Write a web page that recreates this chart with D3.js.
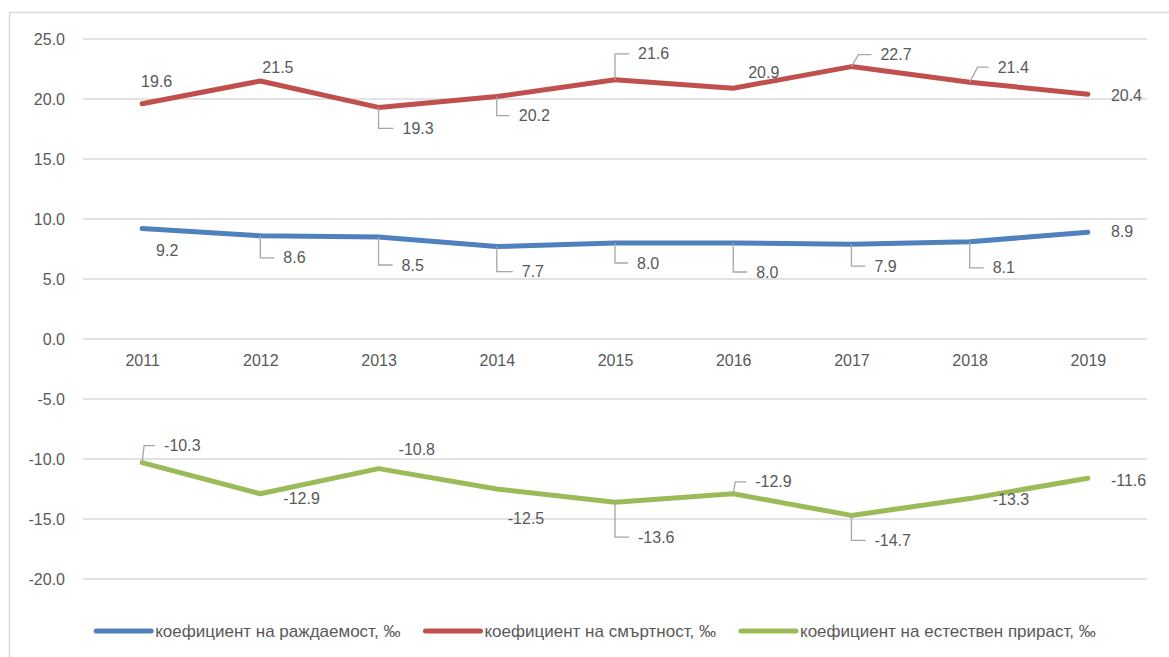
<!DOCTYPE html>
<html>
<head>
<meta charset="utf-8">
<script src="https://cdn.jsdelivr.net/npm/d3@7"></script>
<style>
  body { margin: 0; background: #fff; }
  svg { display: block; }
</style>
</head>
<body>
<script>
    // data
    var years = ["2011", "2012", "2013", "2014", "2015", "2016", "2017", "2018", "2019"]
    var birthRate = [9.2, 8.6, 8.5, 7.7, 8.0, 8.0, 7.9, 8.1, 8.9]
    var deathRate = [19.6, 21.5, 19.3, 20.2, 21.6, 20.9, 22.7, 21.4, 20.4]
    var naturalGrowth = [-10.3, -12.9, -10.8, -12.5, -13.6, -12.9, -14.7, -13.3, -11.6]
    var yTicks = [25, 20, 15, 10, 5, 0, -5, -10, -15, -20]
    var seriesNames = ["коефициент на раждаемост, ‰", "коефициент на смъртност, ‰", "коефициент на естествен прираст, ‰"]
    var seriesColors = ["#4F81BD", "#C0504D", "#9BBB59"]

    // label placement relative to point: [dx, dy, leader, slant]
    var birthLabelPos = [[14, 22, 0, 0], [23, 22, 1, 0], [23, 28, 1, 0], [25, 25, 1, 0], [22, 20, 1, 0], [23, 29, 1, 0], [23, 22, 1, 0], [23, 26, 1, 0], [23, -1, 0, 0]]
    var deathLabelPos = [[-1, -22, 0, 0], [2, -14, 0, 0], [24, 21, 1, 0], [22, 19, 1, 0], [23, -26, 1, 0], [15, -16, 0, 0], [29, -12, 1, 7], [28, -15, 1, 8], [23, 1, 0, 0]]
    var growthLabelPos = [[22, -17, 1, 2], [23, 5, 0, 0], [20, -19, 0, 0], [11, 29, 0, 0], [23, 35, 1, 0], [22, -12, 1, 2], [23, 25, 1, 0], [23, 1, 0, 0], [23, 2, 0, 0]]

    var width = 1169, height = 657
    var textColor = "#595959"
    var fontFam = "'Liberation Sans', Arial, sans-serif"

    // one decimal, plain hyphen for negatives
    var fmt = function (v) { return d3.format(".1f")(v).replace("\u2212", "-") }

    var svg = d3.select("body").append("svg")
        .attr("width", width)
        .attr("height", height)

    // chart border
    svg.append("rect")
        .attr("x", 9.5).attr("y", 12.5)
        .attr("width", 1200).attr("height", 700)
        .attr("fill", "white")
        .attr("stroke", "#D9D9D9")
        .attr("stroke-width", 1.5)

    var x = d3.scalePoint().domain(years).range([83, 1147]).padding(0.5)
    var y = d3.scaleLinear().domain([-20, 25]).range([579, 39])

    // gridlines
    svg.append("g").selectAll("line")
        .data(yTicks)
        .enter().append("line")
        .attr("x1", 83).attr("x2", 1147)
        .attr("y1", function (d) { return y(d) })
        .attr("y2", function (d) { return y(d) })
        .attr("stroke", "#D9D9D9")
        .attr("stroke-width", 1.3)

    // y axis labels
    var yAxis = d3.axisLeft(y).tickValues(yTicks).tickSize(0).tickPadding(18).tickFormat(fmt)
    var yG = svg.append("g").attr("transform", "translate(83,0)").call(yAxis)
    yG.select(".domain").remove()
    yG.selectAll("text").attr("fill", textColor).attr("font-size", "16px").attr("font-family", fontFam)

    // x axis labels at zero line
    var xAxis = d3.axisBottom(x).tickSize(0).tickPadding(16)
    var xG = svg.append("g").attr("transform", "translate(0," + y(0) + ")").call(xAxis)
    xG.select(".domain").remove()
    xG.selectAll("text").attr("fill", textColor).attr("font-size", "16px").attr("font-family", fontFam)

    var series = [
        { values: birthRate, color: seriesColors[0], labels: birthLabelPos },
        { values: deathRate, color: seriesColors[1], labels: deathLabelPos },
        { values: naturalGrowth, color: seriesColors[2], labels: growthLabelPos }
    ]

    var line = d3.line()
        .x(function (d, i) { return x(years[i]) })
        .y(function (d) { return y(d) })

    series.forEach(function (s) {
        svg.append("path")
            .datum(s.values)
            .attr("d", line)
            .attr("fill", "none")
            .attr("stroke", s.color)
            .attr("stroke-width", 5)
            .attr("stroke-linecap", "round")
            .attr("stroke-linejoin", "round")
    })

    // data labels with leader lines
    series.forEach(function (s) {
        s.values.forEach(function (v, i) {
            var px = x(years[i]), py = y(v)
            var p = s.labels[i]
            var tx = px + p[0], ty = py + p[1]
            if (p[2]) {
                svg.append("path")
                    .attr("d", "M" + px + "," + py + "L" + (px + p[3]) + "," + ty + "L" + (tx - 9) + "," + ty)
                    .attr("fill", "none")
                    .attr("stroke", "#A6A6A6")
                    .attr("stroke-width", 1.3)
            }
            svg.append("text")
                .attr("x", tx).attr("y", ty)
                .attr("dy", "0.35em")
                .attr("fill", textColor)
                .attr("font-size", "16px")
                .attr("font-family", fontFam)
                .text(fmt(v))
        })
    })

    // legend
    var legend = svg.append("g")
    var items = []
    seriesNames.forEach(function (name, i) {
        var g = legend.append("g")
        g.append("line")
            .attr("x1", 0).attr("x2", 55)
            .attr("y1", 631).attr("y2", 631)
            .attr("stroke", seriesColors[i])
            .attr("stroke-width", 5)
            .attr("stroke-linecap", "round")
        var t = g.append("text")
            .attr("x", 59).attr("y", 631)
            .attr("dy", "0.35em")
            .attr("fill", textColor)
            .attr("font-size", "17px")
            .attr("font-family", fontFam)
            .text(name)
        items.push({ g: g, w: 59 + t.node().getComputedTextLength() })
    })
    var total = d3.sum(items, function (d) { return d.w }) + 25 * (items.length - 1)
    var lx = 596 - total / 2
    items.forEach(function (it) {
        it.g.attr("transform", "translate(" + lx + ",0)")
        lx += it.w + 25
    })
</script>
</body>
</html>
